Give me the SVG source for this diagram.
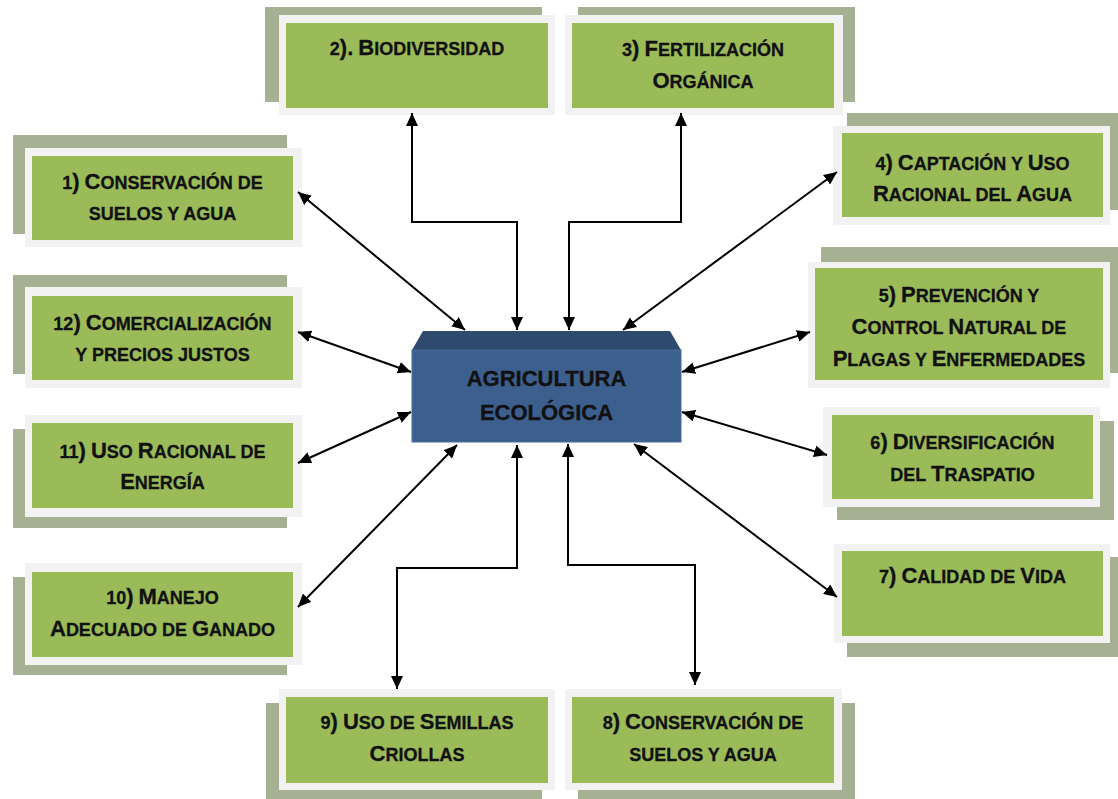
<svg xmlns="http://www.w3.org/2000/svg" width="1118" height="799" viewBox="0 0 1118 799">
<defs>
<style>
.sh{fill:#a6b194}
.fr{fill:#f2f2f2}
.gr{fill:#9bbb59}
.t{font-family:"Liberation Sans",Arial,sans-serif;font-weight:bold;font-size:18px;fill:#111;stroke:#111;stroke-width:0.3;text-anchor:middle}
.b{font-size:22px}
.ct{font-family:"Liberation Sans",Arial,sans-serif;font-weight:bold;font-size:22px;fill:#111;stroke:#111;stroke-width:0.3;text-anchor:middle}
.cn{fill:none;stroke:#000;stroke-width:2;marker-start:url(#ah);marker-end:url(#ah)}
</style>
<marker id="ah" markerUnits="userSpaceOnUse" markerWidth="13" markerHeight="12" refX="13" refY="6" orient="auto-start-reverse" viewBox="0 0 13 12">
<path d="M0,0 L13,6 L0,12 z" fill="#000"/>
</marker>
</defs>
<rect width="1118" height="799" fill="#fff"/>

<g id="n1">
<rect class="sh" x="13" y="135" width="274" height="99"/>
<rect class="fr" x="25" y="148" width="277" height="99"/>
<rect class="gr" x="32" y="156" width="261" height="84"/>
<text class="t" x="162.5" y="189">1<tspan class="b">)</tspan> <tspan class="b">C</tspan>ONSERVACIÓN DE</text>
<text class="t" x="162.5" y="220">SUELOS Y AGUA</text>
</g>
<g id="n2">
<rect class="sh" x="265" y="7" width="277" height="95"/>
<rect class="fr" x="279" y="15" width="276" height="100"/>
<rect class="gr" x="286" y="23" width="262" height="85"/>
<text class="t" x="417" y="55">2<tspan class="b">).</tspan> <tspan class="b">B</tspan>IODIVERSIDAD</text>
</g>
<g id="n3">
<rect class="sh" x="578" y="7" width="277" height="95"/>
<rect class="fr" x="565" y="15" width="278" height="100"/>
<rect class="gr" x="572" y="23" width="262" height="85"/>
<text class="t" x="703" y="56">3<tspan class="b">)</tspan> <tspan class="b">F</tspan>ERTILIZACIÓN</text>
<text class="t" x="703" y="88"><tspan class="b">O</tspan>RGÁNICA</text>
</g>
<g id="n4">
<rect class="sh" x="847" y="113" width="277" height="97"/>
<rect class="fr" x="833" y="126" width="277" height="99"/>
<rect class="gr" x="842" y="133" width="261" height="84"/>
<text class="t" x="972.5" y="170">4<tspan class="b">)</tspan> <tspan class="b">C</tspan>APTACIÓN Y <tspan class="b">U</tspan>SO</text>
<text class="t" x="972.5" y="201"><tspan class="b">R</tspan>ACIONAL DEL <tspan class="b">A</tspan>GUA</text>
</g>
<g id="n5">
<rect class="sh" x="821" y="247" width="304" height="126"/>
<rect class="fr" x="808" y="262" width="302" height="126"/>
<rect class="gr" x="815" y="268" width="288" height="112"/>
<text class="t" x="959" y="302">5<tspan class="b">)</tspan> <tspan class="b">P</tspan>REVENCIÓN Y</text>
<text class="t" x="959" y="334"><tspan class="b">C</tspan>ONTROL <tspan class="b">N</tspan>ATURAL DE</text>
<text class="t" x="959" y="366"><tspan class="b">P</tspan>LAGAS Y <tspan class="b">E</tspan>NFERMEDADES</text>
</g>
<g id="n6">
<rect class="sh" x="837" y="421" width="277" height="99"/>
<rect class="fr" x="823" y="407" width="277" height="100"/>
<rect class="gr" x="832" y="415" width="261" height="84"/>
<text class="t" x="962.5" y="449">6<tspan class="b">)</tspan> <tspan class="b">D</tspan>IVERSIFICACIÓN</text>
<text class="t" x="962.5" y="481">DEL <tspan class="b">T</tspan>RASPATIO</text>
</g>
<g id="n7">
<rect class="sh" x="847" y="557" width="277" height="100"/>
<rect class="fr" x="834" y="544" width="276" height="99"/>
<rect class="gr" x="842" y="551" width="261" height="85"/>
<text class="t" x="972.5" y="583">7<tspan class="b">)</tspan> <tspan class="b">C</tspan>ALIDAD DE <tspan class="b">V</tspan>IDA</text>
</g>
<g id="n8">
<rect class="sh" x="578" y="703" width="277" height="100"/>
<rect class="fr" x="565" y="689" width="277" height="101"/>
<rect class="gr" x="572" y="697" width="262" height="86"/>
<text class="t" x="703" y="729">8<tspan class="b">)</tspan> <tspan class="b">C</tspan>ONSERVACIÓN DE</text>
<text class="t" x="703" y="761">SUELOS Y AGUA</text>
</g>
<g id="n9">
<rect class="sh" x="266" y="703" width="276" height="100"/>
<rect class="fr" x="279" y="689" width="276" height="101"/>
<rect class="gr" x="286" y="697" width="262" height="86"/>
<text class="t" x="417" y="729">9<tspan class="b">)</tspan> <tspan class="b">U</tspan>SO DE <tspan class="b">S</tspan>EMILLAS</text>
<text class="t" x="417" y="761"><tspan class="b">C</tspan>RIOLLAS</text>
</g>
<g id="n10">
<rect class="sh" x="13" y="577" width="274" height="98"/>
<rect class="fr" x="25" y="563" width="277" height="102"/>
<rect class="gr" x="32" y="572" width="261" height="85"/>
<text class="t" x="162.5" y="604">10<tspan class="b">)</tspan> <tspan class="b">M</tspan>ANEJO</text>
<text class="t" x="162.5" y="636"><tspan class="b">A</tspan>DECUADO DE <tspan class="b">G</tspan>ANADO</text>
</g>
<g id="n11">
<rect class="sh" x="13" y="429" width="274" height="99"/>
<rect class="fr" x="25" y="415" width="277" height="102"/>
<rect class="gr" x="32" y="423" width="261" height="85"/>
<text class="t" x="162.5" y="458">11<tspan class="b">)</tspan> <tspan class="b">U</tspan>SO <tspan class="b">R</tspan>ACIONAL DE</text>
<text class="t" x="162.5" y="489"><tspan class="b">E</tspan>NERGÍA</text>
</g>
<g id="n12">
<rect class="sh" x="13" y="275" width="274" height="99"/>
<rect class="fr" x="25" y="287" width="277" height="101"/>
<rect class="gr" x="32" y="296" width="261" height="84"/>
<text class="t" x="162.5" y="330">12<tspan class="b">)</tspan> <tspan class="b">C</tspan>OMERCIALIZACIÓN</text>
<text class="t" x="162.5" y="361">Y PRECIOS JUSTOS</text>
</g>

<g id="center">
<polygon points="412,350 423,331 670,331 681,350" fill="#2e4a6d"/>
<rect x="412" y="350" width="269" height="92" fill="#3c5f8e" stroke="#4a6c9a" stroke-width="1"/>
<text class="ct" x="546.5" y="386">AGRICULTURA</text>
<text class="ct" x="546.5" y="420">ECOLÓGICA</text>
</g>

<g id="connectors">
<path class="cn" d="M298,192 L465,330"/>
<path class="cn" d="M412,113 V222 H517 V330"/>
<path class="cn" d="M681,113 V222 H569 V330"/>
<path class="cn" d="M837,172 L623,330"/>
<path class="cn" d="M810,332 L682,372"/>
<path class="cn" d="M682,412 L827,455"/>
<path class="cn" d="M634,444 L837,597"/>
<path class="cn" d="M568,444 V565 H695 V685"/>
<path class="cn" d="M517,445 V568 H397 V689"/>
<path class="cn" d="M298,607 L457,445"/>
<path class="cn" d="M298,463 L411,412"/>
<path class="cn" d="M298,332 L411,372"/>
</g>
</svg>
